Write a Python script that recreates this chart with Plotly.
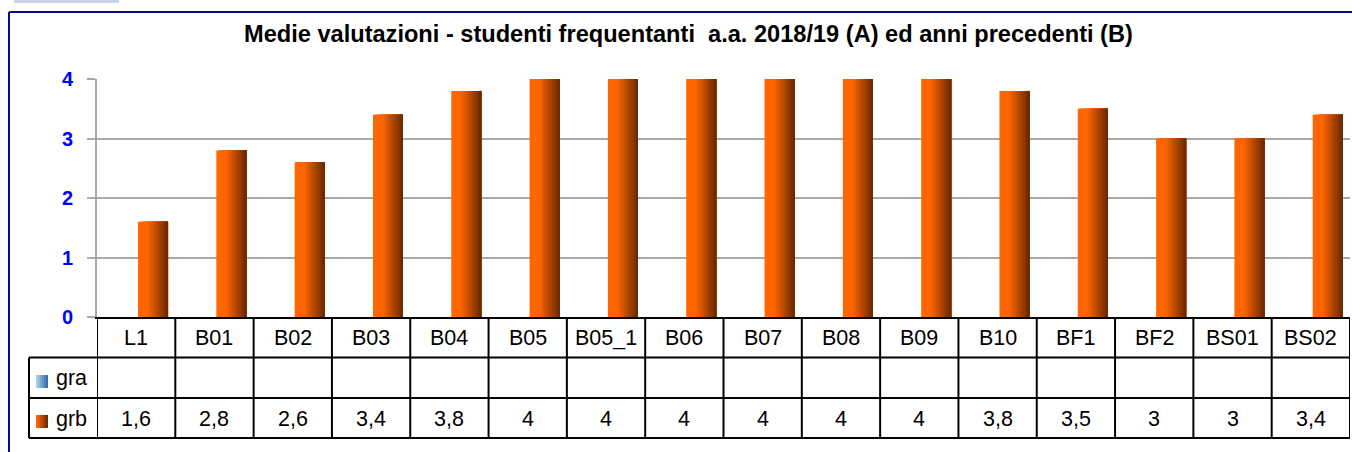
import plotly.graph_objects as go

categories = ["L1", "B01", "B02", "B03", "B04", "B05", "B05_1", "B06",
              "B07", "B08", "B09", "B10", "BF1", "BF2", "BS01", "BS02"]
gra_values = [None] * len(categories)
grb_values = [1.6, 2.8, 2.6, 3.4, 3.8, 4, 4, 4, 4, 4, 4, 3.8, 3.5, 3, 3, 3.4]
grb_labels = ["1,6", "2,8", "2,6", "3,4", "3,8", "4", "4", "4", "4", "4", "4",
              "3,8", "3,5", "3", "3", "3,4"]
y_ticks = [0, 1, 2, 3, 4]
title_text = "Medie valutazioni - studenti frequentanti  a.a. 2018/19 (A) ed anni precedenti (B)"

W, H = 1352, 452
L, R, T, B = 97, 2, 79, 135
PW, PH = W - L - R, H - T - B
FONT = "Liberation Sans, Arial, sans-serif"


def px_x(x):
    return (x - L) / PW


def px_y(y):
    return (H - B - y) / PH


def lerp(c1, c2, t):
    return "#%02x%02x%02x" % tuple(int(round(a + (b - a) * t)) for a, b in zip(c1, c2))


fig = go.Figure()

# empty series "gra"
fig.add_trace(go.Bar(x=categories, y=gra_values, name="gra", showlegend=False,
                     marker=dict(color="#6fa0d6")))

# grb series drawn as gradient slices
bar_w = 0.383
bar_off = 0.024
N = 20
c_light = (255, 102, 0)
c_dark = (110, 42, 0)
for i in range(N):
    t = i / (N - 1)
    tt = 0 if t < 0.3 else (t - 0.3) / 0.7
    col = lerp(c_light, c_dark, tt)
    start = bar_off + bar_w * i / N
    fig.add_trace(go.Bar(
        x=categories, y=grb_values, name="grb", showlegend=False,
        width=bar_off + bar_w - start, offset=start,
        marker=dict(color=col, line=dict(width=0)), hoverinfo="skip" if i else None,
    ))

shapes = []
line_c = "#000000"
# horizontal table lines
for yy, x0 in [(357.5, 29), (398, 29), (438, 29)]:
    shapes.append(dict(type="line", xref="paper", yref="paper",
                       x0=px_x(x0), x1=1.0, y0=px_y(yy), y1=px_y(yy),
                       line=dict(color=line_c, width=2)))
# vertical table lines at category boundaries
n = len(categories)
for k in range(n + 1):
    shapes.append(dict(type="line", xref="x", yref="paper",
                       x0=k - 0.5, x1=k - 0.5, y0=px_y(317), y1=px_y(438),
                       line=dict(color=line_c, width=2)))
# left legend column line
shapes.append(dict(type="line", xref="paper", yref="paper",
                   x0=px_x(29), x1=px_x(29), y0=px_y(357.5), y1=px_y(438),
                   line=dict(color=line_c, width=2)))
# legend swatches (gradient via slices)
for (y0, y1, ca, cb) in [(375, 388, (170, 205, 235), (60, 110, 170)),
                         (415, 428, c_light, c_dark)]:
    steps = 6
    for s in range(steps):
        xa = 36 + 12 * s / steps
        shapes.append(dict(type="rect", xref="paper", yref="paper",
                           x0=px_x(xa), x1=px_x(48), y0=px_y(y1), y1=px_y(y0),
                           fillcolor=lerp(ca, cb, s / (steps - 1)), line=dict(width=0),
                           layer="above"))
# outer navy frame
shapes.append(dict(type="line", xref="paper", yref="paper",
                   x0=px_x(9), x1=px_x(W), y0=px_y(12), y1=px_y(12),
                   line=dict(color="#0a0a86", width=2)))
shapes.append(dict(type="line", xref="paper", yref="paper",
                   x0=px_x(9), x1=px_x(9), y0=px_y(12), y1=px_y(H),
                   line=dict(color="#0a0a86", width=2)))
# top-left tab
shapes.append(dict(type="rect", xref="paper", yref="paper",
                   x0=px_x(14), x1=px_x(119), y0=px_y(3), y1=px_y(0),
                   fillcolor="#c8d5e2", line=dict(width=0)))

annotations = []
tf = dict(family=FONT, size=21.5, color="#000000")
for k, c in enumerate(categories):
    annotations.append(dict(x=k, y=px_y(337.5), xref="x", yref="paper", text=c,
                            showarrow=False, font=tf, xanchor="center", yanchor="middle"))
    annotations.append(dict(x=k, y=px_y(418.5), xref="x", yref="paper", text=grb_labels[k],
                            showarrow=False, font=tf, xanchor="center", yanchor="middle"))
annotations.append(dict(x=px_x(54), y=px_y(378), xref="paper", yref="paper", text="gra",
                        showarrow=False, font=tf, xanchor="left", yanchor="middle"))
annotations.append(dict(x=px_x(54), y=px_y(418.5), xref="paper", yref="paper", text="grb",
                        showarrow=False, font=tf, xanchor="left", yanchor="middle"))
annotations.append(dict(x=px_x(688.5), y=px_y(34), xref="paper", yref="paper",
                        text="<b>" + title_text + "</b>", showarrow=False,
                        font=dict(family=FONT, size=23.6, color="#000000"),
                        xanchor="center", yanchor="middle"))

fig.update_layout(
    width=W, height=H,
    margin=dict(l=L, r=R, t=T, b=B, pad=0),
    paper_bgcolor="white", plot_bgcolor="white",
    barmode="overlay",
    showlegend=False,
    shapes=shapes, annotations=annotations,
    xaxis=dict(type="category", categoryarray=categories, range=[-0.5, n - 0.5],
               showticklabels=False, showgrid=False, zeroline=False,
               showline=True, linecolor="#000000", linewidth=2, ticks=""),
    yaxis=dict(range=[0, 4], tickvals=y_ticks, ticktext=[str(v) for v in y_ticks],
               showgrid=True, gridcolor="#a8a8a8", gridwidth=2, zeroline=False,
               showline=True, linecolor="#a8a8a8", linewidth=2,
               ticks="outside", ticklen=8, tickwidth=2, tickcolor="#a8a8a8",
               ticklabelstandoff=10,
               tickfont=dict(family=FONT, size=20, color="#0000ff", weight="bold")),
)

fig.write_html("out.html", config={"displayModeBar": False},
               post_script="document.body.style.margin='0px';document.body.style.overflow='hidden';")
